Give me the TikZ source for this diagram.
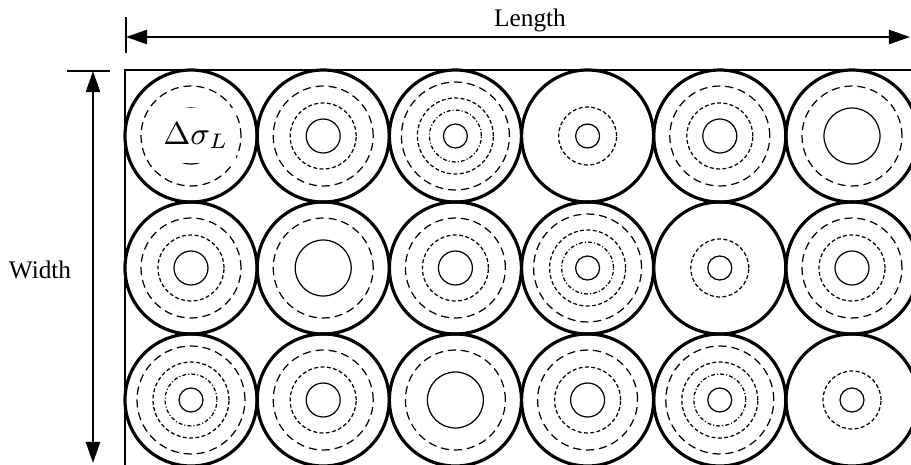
\documentclass[tikz,border=0pt]{standalone}
\usepackage{fontspec}
\setmainfont{Liberation Serif}
\usetikzlibrary{arrows.meta}

\tikzset{
    cell/.style={line width=0.9pt},
    ringlong/.style={line width=0.35pt, dash pattern=on 2.3pt off 1.4pt},
    ringmid/.style={line width=0.35pt, dash pattern=on 1.1pt off 0.7pt},
    ringdot/.style={line width=0.35pt, dash pattern=on 1.1pt off 0.6pt on 0.3pt off 0.6pt},
    core/.style={line width=0.35pt},
    grainA/.pic={
        \draw[cell] (0,0) circle (0.66);
        \draw[ringlong] (0,0) circle (0.50);
        \draw[core] (0,0) circle (0.28);
    },
    grainB/.pic={
        \draw[cell] (0,0) circle (0.66);
        \draw[ringlong] (0,0) circle (0.50);
        \draw[ringmid] (0,0) circle (0.33);
        \draw[core] (0,0) circle (0.17);
    },
    grainC/.pic={
        \draw[cell] (0,0) circle (0.66);
        \draw[ringmid] (0,0) circle (0.29);
        \draw[core] (0,0) circle (0.12);
    },
    grainD/.pic={
        \draw[cell] (0,0) circle (0.66);
        \draw[ringlong] (0,0) circle (0.54);
        \draw[ringmid] (0,0) circle (0.38);
        \draw[ringdot] (0,0) circle (0.26);
        \draw[core] (0,0) circle (0.12);
    }
}

\begin{document}
\begin{tikzpicture}[>={Triangle[length=6pt,width=4pt]},
    dimline/.style={line width=0.7pt},
    lbl/.style={font=\fontsize{7.2}{9}\selectfont}]
    \useasboundingbox (0,0) rectangle (9.11,4.64);
    \clip (0,0) rectangle (9.11,4.64);

    % Plate outline (cut by the frame)
    \draw[line width=0.75pt] (1.25,-0.5) -- (1.25,3.94) -- (9.6,3.94);

    % Grains, row by row
    \foreach \row/\types in {0/{A,B,D,C,B,A},1/{B,A,B,D,C,B},2/{D,B,A,B,D,C}}{
        \foreach \t [count=\col from 0] in \types
            \pic at ({1.91+1.322*\col},{3.28-1.32*\row}) {grain\t};
    }

    % Stress label in first grain
    \node[fill=white, inner xsep=2pt, inner ysep=0pt, minimum height=0.55cm,
          font=\fontsize{9}{10}\selectfont] (dsig) at (1.96,3.285) {$\Delta\sigma_L$};

    % Length dimension
    \coordinate (lenL) at (1.26,4.27);
    \coordinate (lenR) at (9.10,4.27);
    \draw[dimline] (1.26,4.47) -- (1.26,4.11);
    \draw[dimline,<->] (lenL) -- (lenR);
    \node[lbl] (length) at (5.30,4.44) {Length};

    % Width dimension
    \coordinate (widT) at (0.93,3.93);
    \coordinate (widB) at (0.93,0.01);
    \draw[dimline] (0.67,3.93) -- (1.10,3.93);
    \draw[dimline,<->] (widT) -- (widB);
    \node[lbl] (width) at (0.40,1.94) {Width};
\end{tikzpicture}
\end{document}
